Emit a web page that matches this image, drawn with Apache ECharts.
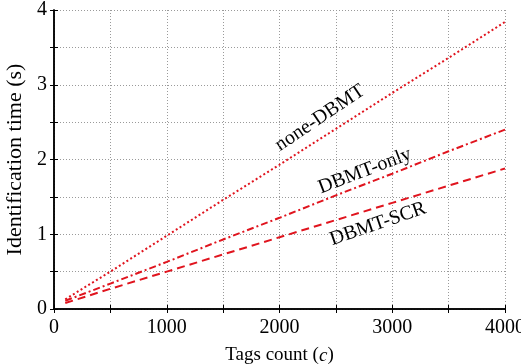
<!DOCTYPE html>
<html><head><meta charset="utf-8">
<script src="https://cdn.jsdelivr.net/npm/echarts@6/dist/echarts.min.js"></script>
<style>html,body{margin:0;padding:0;background:#fff}#c{width:521px;height:364px}</style>
</head><body><div id="c"></div>
<script>
var tagsCount = [100, 500, 1000, 1500, 2000, 2500, 3000, 3500, 4000];
var noneDBMT = [0.13, 0.50, 0.98, 1.46, 1.93, 2.41, 2.89, 3.36, 3.84];
var dbmtOnly = [0.11, 0.34, 0.63, 0.93, 1.22, 1.52, 1.81, 2.11, 2.40];
var dbmtSCR  = [0.08, 0.27, 0.50, 0.73, 0.96, 1.19, 1.42, 1.65, 1.88];
var xTickLabels = ['0', '1000', '2000', '3000', '4000'];
var yTickLabels = ['0', '1', '2', '3', '4'];
var seriesNames = ['none-DBMT', 'DBMT-only', 'DBMT-SCR'];

var FONT = 'Liberation Serif';
var RED = '#e0141e';
function pairs(ys){ return tagsCount.map(function(x,i){ return [x, ys[i]]; }); }
var gridLine = {show:true, lineStyle:{color:'#9a9a9a', type:[1,2], width:1}};
var axisLine = {show:true, lineStyle:{color:'#000', width:1.5}};
var chart = echarts.init(document.getElementById('c'), null, {renderer:'canvas'});
chart.setOption({
  animation:false,
  backgroundColor:'#fff',
  grid:{left:54, right:16, top:10, bottom:55, containLabel:false, outerBoundsMode:'none'},
  xAxis:[{
    type:'value', min:0, max:4000, interval:500,
    name:'Tags count ({i|c})', nameLocation:'middle', nameGap:37,
    nameTextStyle:{fontFamily:FONT, fontSize:19, color:'#000',
      rich:{i:{fontFamily:FONT, fontSize:19, fontStyle:'italic', color:'#000'}}},
    axisLine:axisLine,
    axisTick:{show:true, inside:true, length:4, lineStyle:{color:'#000'}},
    axisLabel:{fontFamily:FONT, fontSize:20, color:'#000', margin:9,
      formatter:function(v){ return v % 1000 === 0 ? xTickLabels[v/1000] : ''; }},
    splitLine:gridLine
  },{
    type:'value', min:0, max:4000, interval:500, position:'top',
    axisLine:axisLine, axisTick:{show:true, inside:true, length:4, lineStyle:{color:'#000'}},
    axisLabel:{show:false}, splitLine:{show:false}
  }],
  yAxis:[{
    type:'value', min:0, max:4, interval:0.5,
    name:'Identification time (s)', nameLocation:'middle', nameGap:27,
    nameTextStyle:{fontFamily:FONT, fontSize:22, color:'#000'},
    axisLine:axisLine,
    axisTick:{show:true, inside:true, length:4, lineStyle:{color:'#000'}},
    axisLabel:{fontFamily:FONT, fontSize:20, color:'#000', margin:7,
      formatter:function(v){ return (Math.abs(v - Math.round(v)) < 1e-9) ? yTickLabels[Math.round(v)] : ''; }},
    splitLine:gridLine
  },{
    type:'value', min:0, max:4, interval:0.5, position:'right',
    axisLine:axisLine, axisTick:{show:true, inside:true, length:4, lineStyle:{color:'#000'}},
    axisLabel:{show:false}, splitLine:{show:false}
  }],
  series:[
    {name:seriesNames[0], type:'line', data:pairs(noneDBMT), showSymbol:false,
     lineStyle:{color:RED, width:2, type:[2,2.5]}},
    {name:seriesNames[1], type:'line', data:pairs(dbmtOnly), showSymbol:false,
     lineStyle:{color:RED, width:2, type:[7,3,2,3]}},
    {name:seriesNames[2], type:'line', data:pairs(dbmtSCR), showSymbol:false,
     lineStyle:{color:RED, width:2, type:[8,5]}}
  ],
  graphic:[
    {type:'text', x:320, y:118, rotation:34*Math.PI/180,
     style:{text:seriesNames[0], font:'20px "Liberation Serif"', fill:'#000', align:'center', verticalAlign:'middle'}},
    {type:'text', x:365, y:171, rotation:21*Math.PI/180,
     style:{text:seriesNames[1], font:'20px "Liberation Serif"', fill:'#000', align:'center', verticalAlign:'middle'}},
    {type:'text', x:378, y:224, rotation:19*Math.PI/180,
     style:{text:seriesNames[2], font:'20px "Liberation Serif"', fill:'#000', align:'center', verticalAlign:'middle'}}
  ]
});
</script></body></html>
